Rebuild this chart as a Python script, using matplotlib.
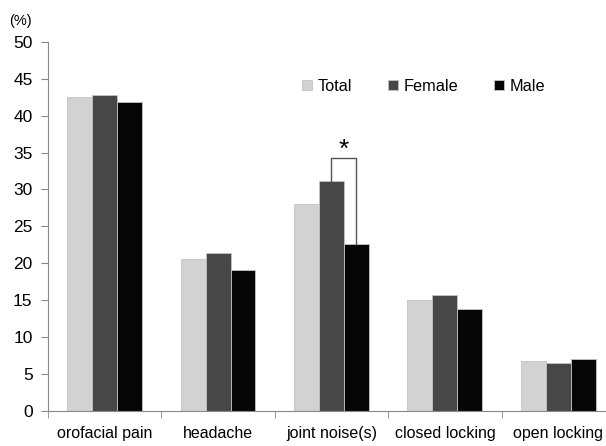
import matplotlib
matplotlib.use("Agg")
import matplotlib.pyplot as plt
import numpy as np

plt.rcParams['font.family'] = ['Liberation Sans', 'DejaVu Sans']

categories = ["orofacial pain", "headache", "joint noise(s)", "closed locking", "open locking"]
total = [42.5, 20.6, 28.0, 15.0, 6.8]
female = [42.8, 21.4, 31.1, 15.7, 6.5]
male = [41.8, 19.1, 22.6, 13.8, 7.0]
series_names = ["Total", "Female", "Male"]
series_colors = ["#d2d2d2", "#474747", "#060606"]

fig = plt.figure(figsize=(6.06, 4.46), dpi=100)
ax = fig.add_axes([0.079, 0.079, 0.921, 0.827])

x = np.arange(len(categories))
w = 0.22
for i, (vals, name, col) in enumerate(zip([total, female, male], series_names, series_colors)):
    ax.bar(x + (i - 1) * w, vals, w, color=col, edgecolor="#c4c4c4", linewidth=0.6, label=name)

ax.set_ylim(0, 50)
ax.set_yticks(range(0, 51, 5))
ax.set_xlim(-0.5, 4.42)
ax.set_xticks(x)
ax.set_xticklabels(categories, fontsize=11.5)
ax.set_xticks(np.arange(-0.5, 4.5, 1), minor=True)
ax.tick_params(axis="x", which="major", length=0, pad=11)
ax.tick_params(axis="x", which="minor", length=5, color="#888888")
ax.tick_params(axis="y", length=5, color="#888888", labelsize=12.5, pad=6)
for s in ["top", "right"]:
    ax.spines[s].set_visible(False)
for s in ["left", "bottom"]:
    ax.spines[s].set_color("#888888")

# significance bracket between female and male for joint noise
j = 2
bx1, bx2 = j, j + w
top = 34.2
ax.plot([bx1, bx1, bx2, bx2], [female[j], top, top, male[j]], color="#555555", lw=1)
ax.text((bx1 + bx2) / 2, top - 0.4, "*", ha="center", va="bottom", fontsize=19)

fig.text(0.015, 0.945, "(%)", fontsize=10.5)

ax.legend(loc="upper left", bbox_to_anchor=(0.43, 0.94), ncol=3, frameon=False,
          fontsize=11.7, handlelength=0.6, handleheight=0.6, columnspacing=2.2, handletextpad=0.35)

fig.savefig("out.png", dpi=100)
